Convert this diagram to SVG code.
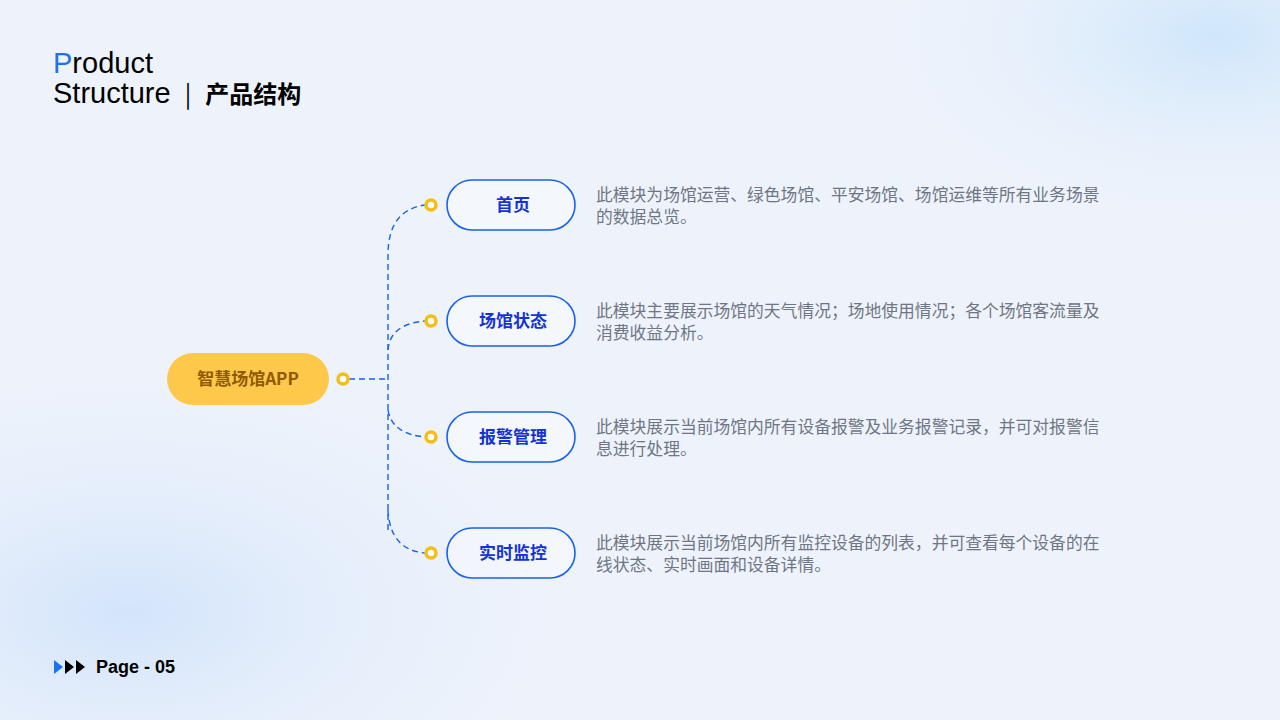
<svg xmlns="http://www.w3.org/2000/svg" width="1280" height="720" viewBox="0 0 1280 720">
<defs>
<radialGradient id="g1" cx="0.1" cy="0.85" r="0.4"><stop offset="0" stop-color="#d3e4fb"/><stop offset="1" stop-color="#eef3fb" stop-opacity="0"/></radialGradient>
<radialGradient id="g2" cx="0.95" cy="0.05" r="0.3"><stop offset="0" stop-color="#cfe6fb"/><stop offset="1" stop-color="#eef3fb" stop-opacity="0"/></radialGradient>
<style>
.cn{font-family:"Noto Sans CJK SC","Liberation Sans",sans-serif}
.node rect{fill:#fff;fill-opacity:0.35;stroke:#1662f0;stroke-width:1.6}
.lbl{fill:#1433d6;font-size:17px;font-weight:bold;text-anchor:middle}
.desc{fill:#6e7685;font-size:16.8px;font-weight:normal}
.dot{fill:#fff;stroke:#f6bd16;stroke-width:3.5}
.con path{fill:none;stroke:#1662f0;stroke-width:1.4;stroke-dasharray:6 4}
</style>
</defs>
<rect width="1280" height="720" fill="#eef3fb"/>
<rect width="1280" height="720" fill="url(#g1)"/>
<rect width="1280" height="720" fill="url(#g2)"/>
<text x="53" y="73" font-family="Liberation Sans,Arial,sans-serif" font-size="29" fill="#000"><tspan fill="#1a73f0">P</tspan>roduct</text>
<text x="53" y="103" class="cn" font-size="29" fill="#000"><tspan font-family="Liberation Sans,Arial,sans-serif">Structure</tspan><tspan dx="14" font-size="24">|</tspan><tspan dx="14" font-weight="bold" font-size="24">产品结构</tspan></text>
<g id="pager">
<polygon points="54,660 63,667 54,674" fill="#1a73f0"/>
<polygon points="65,660 74,667 65,674" fill="#000"/>
<polygon points="76,660 85,667 76,674" fill="#000"/>
<text x="96" y="673" font-family="Liberation Sans,Arial,sans-serif" font-weight="bold" font-size="18" fill="#000">Page - 05</text>
</g>
<g class="con" id="connectors">
<path d="M349 379 H388"/>
<path d="M388 530 V255 Q388 210 425 205"/>
<path d="M388 350 Q390 324 425 321"/>
<path d="M388 410 Q392 434 425 437"/>
<path d="M388 510 Q390 550 425 553"/>
</g>
<g id="root">
<rect x="167" y="353" width="162" height="52" rx="26" fill="#fec84b"/>
<text x="248" y="385" class="cn" font-size="17" font-weight="bold" fill="#8f5a00" text-anchor="middle">智慧场馆APP</text>
<circle class="dot" cx="343" cy="379" r="5"/>
</g>
<g id="n1" class="node cn"><circle class="dot" cx="431" cy="205" r="5"/><rect x="447" y="180" width="128" height="50" rx="25"/><text class="lbl" x="513" y="211">首页</text><text class="desc" x="596" y="201">此模块为场馆运营、绿色场馆、平安场馆、场馆运维等所有业务场景</text><text class="desc" x="596" y="223">的数据总览。</text></g>
<g id="n2" class="node cn"><circle class="dot" cx="431" cy="321" r="5"/><rect x="447" y="296" width="128" height="50" rx="25"/><text class="lbl" x="513" y="327">场馆状态</text><text class="desc" x="596" y="317">此模块主要展示场馆的天气情况；场地使用情况；各个场馆客流量及</text><text class="desc" x="596" y="339">消费收益分析。</text></g>
<g id="n3" class="node cn"><circle class="dot" cx="431" cy="437" r="5"/><rect x="447" y="412" width="128" height="50" rx="25"/><text class="lbl" x="513" y="443">报警管理</text><text class="desc" x="596" y="433">此模块展示当前场馆内所有设备报警及业务报警记录，并可对报警信</text><text class="desc" x="596" y="455">息进行处理。</text></g>
<g id="n4" class="node cn"><circle class="dot" cx="431" cy="553" r="5"/><rect x="447" y="528" width="128" height="50" rx="25"/><text class="lbl" x="513" y="559">实时监控</text><text class="desc" x="596" y="549">此模块展示当前场馆内所有监控设备的列表，并可查看每个设备的在</text><text class="desc" x="596" y="571">线状态、实时画面和设备详情。</text></g>
</svg>
